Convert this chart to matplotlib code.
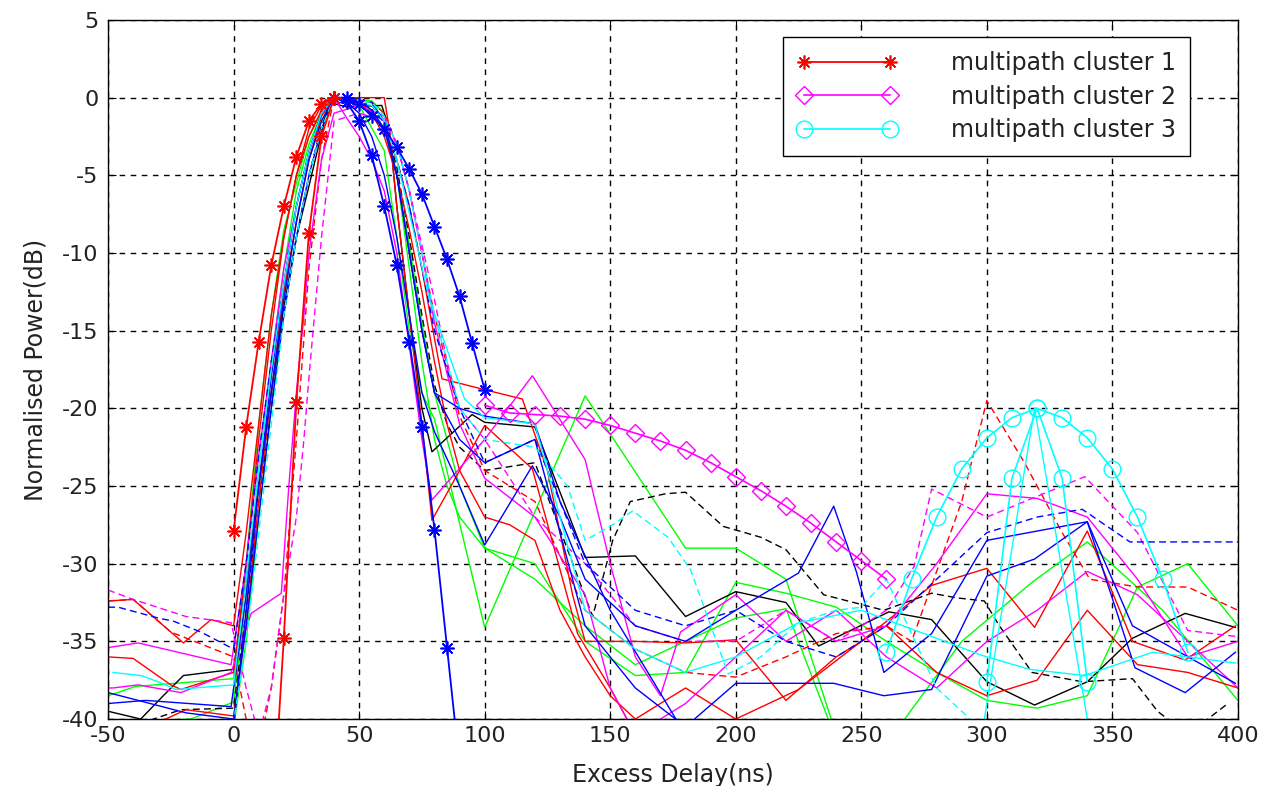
import matplotlib
matplotlib.use("Agg")
import matplotlib.pyplot as plt

plt.rcParams['font.family'] = ['DejaVu Sans']
plt.rcParams['axes.unicode_minus'] = False

# ---------------- data (ns, dB) ----------------
# marked cluster lines
x_c1 = [0, 5, 10, 15, 20, 25, 30, 35, 40]
y_c1 = [-27.9, -21.2, -15.7, -10.8, -7.0, -3.8, -1.5, -0.4, 0.0]

x_c1b = [15, 20, 25, 30, 35, 40]
y_c1b = [-48.0, -34.8, -19.6, -8.7, -2.5, 0.0]

x_b_star1 = [40, 45, 50, 55, 60, 65, 70, 75, 80, 85, 90, 95, 100]
y_b_star1 = [0.0, 0.0, -0.4, -1.2, -2.0, -3.2, -4.6, -6.2, -8.3, -10.4, -12.8, -15.8, -18.8]

x_b_star2 = [40, 45, 50, 55, 60, 65, 70, 75, 80, 85, 90]
y_b_star2 = [0.0, -0.3, -1.5, -3.7, -7.0, -10.8, -15.7, -21.2, -27.8, -35.4, -43.0]

x_c2 = [100, 110, 120, 130, 140, 150, 160, 170, 180, 190, 200, 210, 220, 230, 240, 250, 260]
y_c2 = [-19.8, -20.3, -20.4, -20.5, -20.7, -21.1, -21.6, -22.1, -22.7, -23.5, -24.4, -25.3,
        -26.3, -27.4, -28.6, -29.8, -31.0]

x_c3 = [260, 270, 280, 290, 300, 310, 320, 330, 340, 350, 360, 370, 380]
y_c3 = [-35.7, -31.0, -27.0, -23.9, -21.9, -20.6, -20.0, -20.6, -21.9, -23.9, -27.0, -31.0, -35.7]

x_c3b = [300, 310, 320, 330, 340]
y_c3b = [-37.6, -24.5, -20.0, -24.5, -37.6]

# thin measured profiles
x_g1 = [-50, -39, 0, 5, 10, 15, 20, 25, 30, 35, 40, 50, 60, 65, 70, 75, 80, 100, 140, 180, 200, 220, 240]
y_g1 = [-38.5, -37.9, -37.4, -30, -21, -14, -8.5, -5.5, -2.5, -1, 0, -0.5, -3.4, -9, -15, -19, -20.7,
        -34.1, -19.2, -29, -29, -31, -41]

x_g2 = [-50, -45, -17, 0, 5, 10, 15, 20, 25, 30, 35, 40, 50, 55, 60, 65, 70, 75, 80, 90, 100, 120, 140,
        160, 180, 200, 220, 240, 260, 280, 300, 320, 340, 360, 380, 400]
y_g2 = [-40.5, -40.2, -40, -38.9, -32, -24, -17, -11, -6, -3, -1, 0, -0.3, -0.8, -2, -5, -9.5, -14.5,
        -19, -25, -29, -30, -35, -37.2, -37, -31.2, -31.9, -32.8, -35, -37, -38.8, -39.3, -38.5, -31.5,
        -30, -34]

x_g3 = [-50, -20, 0, 5, 10, 15, 20, 25, 30, 35, 40, 55, 60, 65, 70, 75, 80, 85, 90, 100, 120, 140, 160,
        180, 200, 220, 238, 265, 290, 318, 340, 370, 400]
y_g3 = [-41, -41, -40.5, -35, -27, -20, -13, -8, -4, -1.5, 0, -0.2, -1, -5, -11, -17, -22, -25, -27,
        -29, -31, -34, -36.5, -35, -33.5, -32.9, -40.5, -40.5, -35, -31.2, -28.6, -33, -38.8]

x_k1 = [-50, -37, -28, -20, 0, 5, 10, 15, 20, 25, 30, 38, 45, 59, 62, 65, 70, 75, 79, 95, 100, 120, 140,
        160, 180, 200, 220, 233, 261, 278, 300, 319, 340, 358, 379, 399]
y_k1 = [-39.5, -40, -38.5, -37.2, -36.8, -31, -25, -19, -13.5, -9, -5.7, -0.3, -0.6, -0.5, -2, -7, -14,
        -20, -22.8, -20.4, -20.9, -21.2, -29.6, -29.5, -33.4, -31.8, -32.5, -35.3, -33.1, -33.6, -37.6,
        -39.1, -37.6, -34.8, -33.2, -34.1]

x_k2 = [-50, -21, 0, 5, 10, 15, 20, 25, 30, 35, 40, 55, 60, 65, 70, 75, 80, 85, 90, 100, 120, 143, 151,
        158, 172, 180, 195, 210, 220, 235, 259, 278, 288, 299, 305, 318, 338, 358, 368, 380, 396]
y_k2 = [-41, -39.4, -39.3, -33, -26, -20, -14, -9, -5, -1.8, 0, -0.5, -1.5, -4.5, -9, -14, -18.5, -21,
        -22.5, -24, -23.5, -33.4, -28.5, -26, -25.5, -25.4, -27.6, -28.3, -29.1, -32, -33, -31.9, -32.2,
        -32.4, -34, -37, -37.6, -37.4, -39.5, -41, -39]

x_r3 = [-50, -40, -25, -21, 0, 5, 10, 15, 20, 25, 30, 35, 40, 60, 62, 65, 70, 75, 79, 100, 119, 137, 150, 160]
y_r3 = [-36, -36.1, -37.8, -38.1, -37, -30, -22, -15, -9, -5, -2, -0.5, 0, 0, -2, -7, -14, -21, -27.2,
        -21.1, -23.9, -34.5, -38, -41]

x_r4 = [-50, -27, -19, 0, 5, 10, 15, 20, 25, 30, 35, 40, 50, 55, 60, 65, 70, 75, 80, 85, 90, 100, 110,
        120, 130, 140, 150, 160, 180, 200, 225, 250, 278, 300, 319, 340, 358, 379, 399]
y_r4 = [-41, -40, -39.4, -39.8, -34, -26, -19, -12.5, -8, -4, -1.2, 0, -0.3, -1, -2.5, -5, -8.5, -12.5,
        -17, -21, -24, -27, -27.5, -28.5, -33, -36, -38.5, -40, -38, -40, -38.1, -35, -31.4, -30.3,
        -34.1, -27.9, -35, -36.2, -34]

x_r5 = [-50, -40, -25, -20, -9, 0, 5, 10, 15, 20, 25, 30, 35, 40, 45, 50, 55, 60, 65, 70, 75, 80, 83,
        100, 115, 125, 135, 140, 150, 160, 180, 200, 220, 240, 260, 280, 300, 320, 340, 360, 380, 400]
y_r5 = [-32.4, -32.3, -34.4, -35.1, -33.6, -34, -28, -21, -14, -9, -5, -2.5, -0.8, 0, -0.2, -0.5, -1,
        -2, -4, -7, -11, -15.5, -18.1, -18.8, -19.4, -24, -32, -35, -35, -35, -35.1, -34.9, -38.8, -36,
        -34, -37, -38.5, -37.5, -33, -36.5, -37, -38]

x_r6 = [-50, -40, -25, 0, 5, 10, 15, 20, 25, 28, 30, 35, 40, 55, 60, 65, 70, 75, 80, 90, 100, 120, 140,
        160, 180, 200, 220, 240, 260, 270, 290, 300, 315, 330, 341, 360, 380, 400]
y_r6 = [-32.4, -32.3, -34.4, -36, -40, -42, -38, -32, -22, -15.5, -11, -4, 0, -0.3, -1, -3, -6, -10,
        -14, -20.5, -24, -26, -33, -35.5, -37, -37.3, -36, -34.5, -34, -35, -26, -19.5, -23.5, -28, -31,
        -31.5, -31.5, -33]

x_m2 = [-50, -38, -1, 5, 10, 15, 20, 25, 30, 35, 40, 45, 50, 55, 60, 65, 70, 75, 79, 100, 119, 140, 150,
        160, 170, 178, 200, 220, 240, 260, 280, 300, 320, 340, 360, 380, 400]
y_m2 = [-35.4, -35.1, -36.5, -30, -23, -17, -11, -7, -3.5, -1, 0, -1.3, -2.5, -4, -6, -10, -16, -22,
        -25.9, -22, -17.9, -23.3, -30, -36, -38.5, -34.4, -32, -35, -33, -36, -38, -35, -33, -30.5, -32,
        -35, -38]

x_m3 = [-50, -40, -19, -1, 5, 10, 15, 20, 25, 28, 30, 35, 40, 50, 60, 65, 70, 75, 80, 85, 90, 100, 120,
        140, 160, 180, 200, 220, 240, 260, 271, 278, 300, 339, 360, 380, 400]
y_m3 = [-31.7, -32.3, -33.4, -33.8, -38, -41, -38, -32, -27, -22, -18, -9, -1.5, -1, -1.5, -3, -6, -9.5,
        -13, -17, -20, -22, -27, -30, -34, -35, -35, -33, -35, -33, -30.2, -25.2, -27, -24.4, -28, -34.3,
        -34.7]

x_m4 = [-50, -48, -38, -21, -1, 7, 19, 22, 25, 28, 30, 35, 40, 50, 60, 65, 70, 75, 80, 90, 100, 120, 140,
        150, 160, 180, 200, 220, 240, 260, 280, 300, 320, 340, 360, 380, 400]
y_m4 = [-38, -38, -37.8, -38.3, -37, -33.2, -31.9, -25, -19, -14, -10, -4, -1, -0.5, -1.2, -3, -6, -10,
        -14.5, -21, -24.5, -27, -32, -38, -41, -39, -36, -33, -35, -34, -30, -25.5, -25.8, -27, -31, -36,
        -35]

x_b3 = [-50, -35, -1, 5, 10, 15, 20, 25, 30, 35, 40, 45, 50, 55, 60, 65, 70, 75, 80, 90, 100, 119, 130,
        140, 160, 180, 200, 225, 239, 248, 259, 278, 300, 340, 359, 379, 399]
y_b3 = [-39, -38.8, -39.2, -32, -25, -19, -13, -8, -4, -1.5, 0, -0.3, -1, -2.5, -5, -9, -14, -19, -21.5,
        -25, -28.8, -23.7, -27, -31, -34, -35, -33, -30.6, -26.3, -30.5, -37, -34.5, -28.5, -27.3, -36.7,
        -38.3, -35.7]

x_b4 = [-50, -38, -19, 0, 5, 10, 15, 20, 25, 30, 35, 40, 50, 55, 60, 65, 70, 75, 80, 90, 100, 120, 130,
        140, 160, 180, 200, 225, 239, 259, 278, 300, 319, 340, 358, 399]
y_b4 = [-38.3, -38.8, -39.6, -40, -34, -27, -20, -14, -9, -5, -2, 0, -0.2, -0.8, -2, -5, -10, -15, -19,
        -22, -23.5, -22, -28, -34, -38, -40.5, -37.7, -37.7, -37.7, -38.5, -38.1, -30.8, -29.7, -27.3,
        -34, -37.7]

x_b5 = [-50, -46, -30, -24, -13, 0, 5, 10, 15, 20, 25, 30, 35, 40, 50, 60, 65, 70, 75, 80, 90, 100, 120,
        140, 160, 180, 200, 220, 240, 260, 280, 300, 320, 338, 357, 400]
y_b5 = [-32.8, -32.8, -33.5, -33.7, -34.4, -35.5, -30, -23, -17, -12, -7, -3.5, -1, 0, -0.5, -1.5, -4,
        -7, -11, -15, -20, -23.5, -22, -30, -33, -34, -33, -35, -36, -34, -31, -28, -27, -26.5, -28.6, -28.6]

x_b6 = [-50, -20, 0, 5, 10, 15, 20, 25, 30, 35, 40, 55, 60, 65, 70, 75, 80, 90, 100, 120, 130, 150, 165, 178]
y_b6 = [-40.5, -40.3, -40.5, -33, -25, -18, -12, -7, -3.5, -1, 0, -0.3, -1.5, -5, -10, -15, -19, -20,
        -20.5, -21, -26, -33, -37, -40.5]

x_cy1 = [-48, -37, -30, -23, 0, 5, 10, 15, 20, 25, 30, 35, 40, 55, 60, 65, 72, 78, 92, 100, 120, 140,
         160, 180, 200, 225, 250, 275, 298, 317, 339, 366, 399]
y_cy1 = [-37, -37.2, -37.6, -38.1, -37.8, -31, -24, -17.5, -12, -7, -3.5, -1, 0, -0.5, -1.5, -4, -8.8,
         -13, -19.4, -20.6, -21, -33, -35.5, -37, -36, -33.8, -33, -34.5, -35.9, -36.8, -37.2, -35.7, -36.4]

x_cy2 = [-50, -30, 0, 5, 10, 15, 20, 25, 30, 35, 40, 55, 60, 65, 70, 75, 80, 90, 100, 120, 133, 140,
         150, 159, 173, 182, 197, 210, 225, 240, 250, 260, 280, 300]
y_cy2 = [-40.5, -40.2, -40.2, -35, -28, -21, -14, -9, -5, -2, 0, -0.3, -1.2, -3, -6, -10, -14, -20,
         -22, -22.5, -25, -28.5, -27.6, -26.6, -28.3, -30.4, -37.1, -36, -33.8, -33, -32.8, -31, -38, -41]

x_cy3 = [290, 299, 319, 340, 350]
y_cy3 = [-46, -40, -20, -40, -46]

# ---------------- figure ----------------
fig = plt.figure(figsize=(12.61, 7.86), dpi=100)
ax = fig.add_axes([0.0857, 0.0852, 0.8960, 0.8894])

dash = (0, (5, 3))
thin = [
    (x_g1, y_g1, '#00ff00', '-'),
    (x_g2, y_g2, '#00ff00', '-'),
    (x_g3, y_g3, '#00ff00', '-'),
    (x_k1, y_k1, 'k', '-'),
    (x_k2, y_k2, 'k', dash),
    (x_r3, y_r3, '#ff0000', '-'),
    (x_r4, y_r4, '#ff0000', '-'),
    (x_r5, y_r5, '#ff0000', '-'),
    (x_r6, y_r6, '#ff0000', dash),
    (x_m2, y_m2, '#ff00ff', '-'),
    (x_m3, y_m3, '#ff00ff', dash),
    (x_m4, y_m4, '#ff00ff', '-'),
    (x_b3, y_b3, '#0000ff', '-'),
    (x_b4, y_b4, '#0000ff', '-'),
    (x_b5, y_b5, '#0000ff', dash),
    (x_b6, y_b6, '#0000ff', '-'),
    (x_cy1, y_cy1, '#00ffff', '-'),
    (x_cy2, y_cy2, '#00ffff', dash),
    (x_cy3, y_cy3, '#00ffff', '-'),
]
for xs, ys, col, ls in thin:
    ax.plot(xs, ys, color=col, linestyle=ls, linewidth=1.0)

star = (8, 2, 0)
ax.plot(x_b_star1, y_b_star1, color='#0000ff', lw=1.3, marker=star, ms=10, mew=1.2)
ax.plot(x_b_star2, y_b_star2, color='#0000ff', lw=1.3, marker=star, ms=10, mew=1.2)
ax.plot(x_c1b, y_c1b, color='#ff0000', lw=1.3, marker=star, ms=10, mew=1.2)
h1, = ax.plot(x_c1, y_c1, color='#ff0000', lw=1.3, marker=star, ms=10, mew=1.2)
h2, = ax.plot(x_c2, y_c2, color='#ff00ff', lw=1.2, marker='D', ms=9, mfc='none', mew=1.0)
h3, = ax.plot(x_c3, y_c3, color='#00ffff', lw=1.2, marker='o', ms=12, mfc='none', mew=1.0)
ax.plot(x_c3b, y_c3b, color='#00ffff', lw=1.2, marker='o', ms=12, mfc='none', mew=1.0)

ax.set_xlim(-50, 400)
ax.set_ylim(-40, 5)
ax.set_xticks(range(-50, 401, 50))
ax.set_yticks(range(-40, 6, 5))
ax.grid(True, color='k', linestyle=(0, (4, 4)), linewidth=1.0)
ax.tick_params(direction='in', length=6, labelsize=16, top=True, right=True, pad=7, colors='k')
ax.tick_params(axis='x', pad=5)
for tl in ax.get_xticklabels() + ax.get_yticklabels():
    tl.set_color('#222222')
for s in ax.spines.values():
    s.set_color('k')
    s.set_linewidth(1.0)

ax.set_xlabel('Excess Delay(ns)', fontsize=17, color='#222222', labelpad=12)
ax.set_ylabel('Normalised Power(dB)', fontsize=17, color='#222222', labelpad=10)

leg = ax.legend([h1, h2, h3], ['multipath cluster 1', 'multipath cluster 2', 'multipath cluster 3'],
                loc='upper right', bbox_to_anchor=(0.958, 0.9757), borderaxespad=0,
                fontsize=17, numpoints=2, handlelength=4.24, handletextpad=2.3, labelspacing=0.4,
                fancybox=False, framealpha=1, edgecolor='k', borderpad=0.6)
leg.get_frame().set_linewidth(1.0)
for t in leg.get_texts():
    t.set_color('#222222')

fig.savefig('out.png', dpi=100)
